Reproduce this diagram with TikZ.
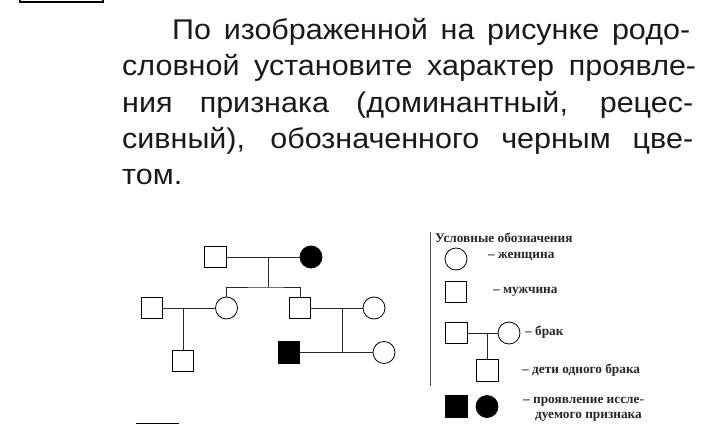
\documentclass[tikz,border=0pt]{standalone}
\usepackage{fontspec}
\setmainfont{Liberation Serif}
\newfontfamily\taskfont[FakeStretch=1.07]{Liberation Sans}
\newfontfamily\legendfont{Liberation Serif}
\usetikzlibrary{positioning}
\tikzset{
  pmale/.style={draw, rectangle, line width=0.8pt, fill=#1,
                minimum size=21.5pt, inner sep=0pt},
  pmale/.default=white,
  pfemale/.style={draw, circle, line width=0.8pt, fill=#1,
                  minimum size=22pt, inner sep=0pt},
  pfemale/.default=white,
  tline/.style={anchor=base west, inner sep=0pt,
                font=\taskfont\fontsize{28.5}{34}\selectfont, text=black!90},
  legtext/.style={anchor=base west, inner sep=0pt,
                  font=\legendfont\bfseries\fontsize{13.3}{15}\selectfont, text=black!85},
  link/.style={line width=0.8pt, black!85},
}
\begin{document}
\begin{tikzpicture}[x=1pt, y=-1pt]
\useasboundingbox (0,0) rectangle (720,444);

% Frame remnant at top left
\draw[line width=2.5pt] (20,-4) -- (20,2) -- (103,2) -- (103,-4);

% Task text
\node[tline] (l1) at (172,40) {\makebox[518pt][s]{По изображенной на рисунке родо-}};
\node[tline] (l2) at (122,76) {\makebox[574pt][s]{словной установите характер проявле-}};
\node[tline] (l3) at (122,112) {\makebox[571pt][s]{ния признака (доминантный, рецес-}};
\node[tline] (l4) at (122,148) {\makebox[571pt][s]{сивный), обозначенного черным цве-}};
\node[tline] (l5) at (122,184) {том.};

% Pedigree
\node[pmale] (f1) at (215.5,257) {};
\node[pfemale=black] (m1) at (311,257) {};
\node[pfemale] (d1) at (226.5,308) {};
\node[pmale] (s1) at (300,308) {};
\node[pmale] (h1) at (152,308) {};
\node[pmale] (c1) at (183,361) {};
\node[pfemale] (w1) at (374,308) {};
\node[pmale=black] (b1) at (289,352.5) {};
\node[pfemale] (w2) at (384,352.5) {};

\coordinate (f1m1) at (268,257);
\coordinate (sib1) at (268,287);
\coordinate (h1d1) at (183,308);
\coordinate (s1w1) at (342,308);
\coordinate (b1w2) at (342,352.5);

\draw[link] (f1) -- (m1);
\draw[link] (f1m1) -- (sib1);
\draw[link] (d1.north) |- (sib1) -| (s1.north);
\draw[link] (h1) -- (d1);
\draw[link] (h1d1) -- (c1.north);
\draw[link] (s1) -- (w1);
\draw[link] (s1w1) -- (b1w2);
\draw[link] (b1) -- (w2);

\draw[line width=1pt] (136,423) -- (179,423);

% Legend
\draw[line width=0.8pt, black!70] (430,232) -- (430,386);
\node[legtext] (lt) at (435,242) {Условные обозначения};

\node[pfemale] (lf) at (456,259) {};
\node[legtext] at (488,258) {– женщина};
\node[pmale] (lm) at (456,292) {};
\node[legtext] at (493,293) {– мужчина};

\node[pmale] (lh) at (456.5,333) {};
\node[pfemale] (lw) at (509,333) {};
\node[pmale] (lc) at (487.5,370.5) {};
\coordinate (lhw) at (487.5,333);
\draw[link] (lh) -- (lw);
\draw[link] (lhw) -- (lc.north);
\node[legtext] at (525,335) {– брак};
\node[legtext] at (522,373) {– дети одного брака};

\node[pmale=black] (la) at (456.5,406.5) {};
\node[pfemale=black] (lb) at (487,406.5) {};
\node[legtext] at (523,403) {– проявление иссле-};
\node[legtext] at (535,418) {дуемого признака};

\end{tikzpicture}
\end{document}
